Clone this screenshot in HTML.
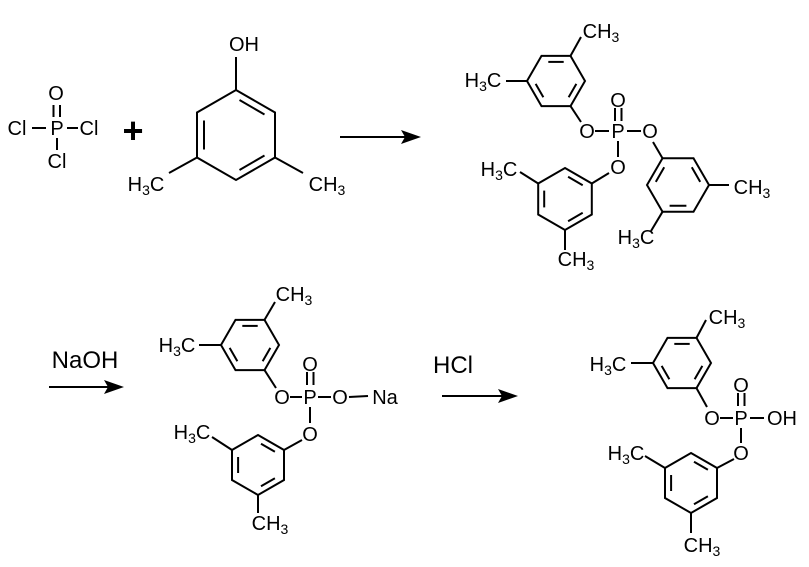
<!DOCTYPE html>
<html><head><meta charset="utf-8"><style>
html,body{margin:0;padding:0;background:#fff;}
svg{display:block;}
text{font-family:"Liberation Sans",Arial,sans-serif;font-size:20px;fill:#000;}
.s{font-size:14px;}
.r{font-size:24px;}
</style></head><body>
<svg width="809" height="567" viewBox="0 0 809 567" xmlns="http://www.w3.org/2000/svg">
<g stroke="#000" stroke-width="2" fill="none" stroke-linecap="butt">
<line x1="32" y1="128" x2="46" y2="128"/><line x1="67" y1="128" x2="78" y2="128"/>
<line x1="57" y1="138" x2="57" y2="150"/>
<line x1="53.5" y1="105" x2="53.5" y2="117"/><line x1="60" y1="105" x2="60" y2="117"/>
<polygon points="236,90 275,112.5 275,157.5 236,180 197,157.5 197,112.5"/>
<line x1="239.5" y1="100" x2="264.5" y2="114.5"/><line x1="264.5" y1="155.5" x2="239.5" y2="170"/><line x1="204" y1="149.5" x2="204" y2="120.5"/>
<line x1="236" y1="90" x2="236" y2="57"/>
<line x1="197" y1="157.5" x2="169" y2="173"/><line x1="275" y1="157.5" x2="303" y2="173"/>
<line x1="340" y1="137" x2="406" y2="137"/>
<polygon points="585,81 570.5,106.1 541.5,106.1 527,81 541.5,55.9 570.5,55.9"/>
<line x1="548.3" y1="61.9" x2="563.7" y2="61.9"/><line x1="576.35" y1="83.87" x2="568.65" y2="97.23"/><line x1="543.35" y1="97.23" x2="535.65" y2="83.87"/>
<line x1="570.5" y1="55.9" x2="581" y2="37"/><line x1="527" y1="81" x2="506" y2="81"/>
<line x1="570.5" y1="106.1" x2="581" y2="122"/>
<line x1="595" y1="131" x2="609" y2="131"/><line x1="627" y1="131" x2="641" y2="131"/>
<line x1="615" y1="108" x2="615" y2="121"/><line x1="621.5" y1="108" x2="621.5" y2="121"/>
<line x1="618" y1="141" x2="618" y2="157"/>
<polygon points="565,168 591.8,183.5 591.8,214.5 565,230 538.2,214.5 538.2,183.5"/>
<line x1="568.1" y1="176.8" x2="582.7" y2="185.2"/><line x1="582.7" y1="212.8" x2="568.1" y2="221.2"/><line x1="544.2" y1="207.4" x2="544.2" y2="190.6"/>
<line x1="591.8" y1="183.5" x2="609" y2="173"/><line x1="538.2" y1="183.5" x2="520" y2="172"/><line x1="565" y1="230" x2="565" y2="250"/>
<polygon points="709,185 693.5,211.8 662.5,211.8 647,185 662.5,158.2 693.5,158.2"/>
<line x1="655.8" y1="181.9" x2="664.2" y2="167.3"/><line x1="686.4" y1="205.8" x2="669.6" y2="205.8"/><line x1="691.8" y1="167.3" x2="700.2" y2="181.9"/>
<line x1="662.5" y1="158.2" x2="653" y2="142"/><line x1="709" y1="185" x2="729" y2="185"/><line x1="662.5" y1="211.8" x2="651" y2="231"/>
<line x1="49" y1="387" x2="110" y2="387"/>
<polygon points="279,345 264.5,370.1 235.5,370.1 221,345 235.5,319.9 264.5,319.9"/>
<line x1="242.3" y1="325.9" x2="257.7" y2="325.9"/><line x1="270.35" y1="347.87" x2="262.65" y2="361.23"/><line x1="237.35" y1="361.23" x2="229.65" y2="347.87"/>
<line x1="264.5" y1="319.9" x2="275" y2="302"/><line x1="221" y1="345" x2="199" y2="345"/><line x1="264.5" y1="370.1" x2="276" y2="388"/>
<line x1="290" y1="397" x2="302" y2="397"/><line x1="318" y1="397" x2="331" y2="397"/><line x1="349" y1="397" x2="368" y2="396"/>
<line x1="307" y1="372" x2="307" y2="385"/><line x1="313.5" y1="372" x2="313.5" y2="385"/>
<line x1="310" y1="407" x2="310" y2="423"/>
<polygon points="258,435 284,450 284,480 258,495 232,480 232,450"/>
<line x1="261" y1="443.7" x2="274.9" y2="451.8"/><line x1="274.9" y1="478.2" x2="261" y2="486.3"/><line x1="238.1" y1="473" x2="238.1" y2="457"/>
<line x1="284" y1="450" x2="302" y2="440"/><line x1="232" y1="450" x2="212" y2="437"/><line x1="258" y1="495" x2="258" y2="513"/>
<line x1="442" y1="396" x2="504" y2="396"/>
<polygon points="711,363 696.5,388.1 667.5,388.1 653,363 667.5,337.9 696.5,337.9"/>
<line x1="674.3" y1="343.9" x2="689.7" y2="343.9"/><line x1="702.35" y1="365.87" x2="694.65" y2="379.23"/><line x1="669.35" y1="379.23" x2="661.65" y2="365.87"/>
<line x1="696.5" y1="337.9" x2="706" y2="320"/><line x1="653" y1="363" x2="631" y2="363"/><line x1="696.5" y1="388.1" x2="707" y2="407"/>
<line x1="720" y1="418" x2="733" y2="418"/><line x1="750" y1="418" x2="764" y2="418"/>
<line x1="738" y1="393" x2="738" y2="406"/><line x1="744.5" y1="393" x2="744.5" y2="406"/>
<line x1="741" y1="428" x2="741" y2="443"/>
<polygon points="691,453 717,468 717,498 691,513 665,498 665,468"/>
<line x1="694" y1="461.7" x2="707.9" y2="469.8"/><line x1="707.9" y1="496.2" x2="694" y2="504.3"/><line x1="671.1" y1="491" x2="671.1" y2="475"/>
<line x1="717" y1="468" x2="734" y2="459"/><line x1="665" y1="468" x2="645" y2="456"/><line x1="691" y1="513" x2="691" y2="533"/>
</g>
<g fill="#000">
<polygon points="421,137 401,130 405,137 401,144"/>
<polygon points="124,387 104,380 108,387 104,394"/>
<polygon points="518,396 498,389 502,396 498,403"/>
</g>
<g text-anchor="middle">
<text x="56" y="100">O</text><text x="17" y="135">Cl</text><text x="57" y="135">P</text><text x="89" y="135">Cl</text><text x="57" y="168">Cl</text>
<text x="133" y="143" style="font-size:36px;font-weight:bold">+</text>
<text x="244" y="51">OH</text>
<text x="146" y="191">H<tspan class="s" dy="4">3</tspan><tspan dy="-4">C</tspan></text>
<text x="327" y="191">CH<tspan class="s" dy="4">3</tspan></text>
<text x="601" y="38">CH<tspan class="s" dy="4">3</tspan></text>
<text x="483" y="87">H<tspan class="s" dy="4">3</tspan><tspan dy="-4">C</tspan></text>
<text x="587" y="138">O</text><text x="618" y="138">P</text><text x="650" y="138">O</text>
<text x="618" y="107">O</text><text x="618" y="174">O</text>
<text x="499" y="176">H<tspan class="s" dy="4">3</tspan><tspan dy="-4">C</tspan></text>
<text x="576" y="266">CH<tspan class="s" dy="4">3</tspan></text>
<text x="752" y="194">CH<tspan class="s" dy="4">3</tspan></text>
<text x="636" y="244">H<tspan class="s" dy="4">3</tspan><tspan dy="-4">C</tspan></text>
<text x="85" y="368" class="r">NaOH</text>
<text x="294" y="301">CH<tspan class="s" dy="4">3</tspan></text>
<text x="177" y="352">H<tspan class="s" dy="4">3</tspan><tspan dy="-4">C</tspan></text>
<text x="282" y="404">O</text><text x="310" y="404">P</text><text x="340" y="404">O</text><text x="385" y="404">Na</text>
<text x="310" y="371">O</text><text x="310" y="441">O</text>
<text x="192" y="439">H<tspan class="s" dy="4">3</tspan><tspan dy="-4">C</tspan></text>
<text x="270" y="530">CH<tspan class="s" dy="4">3</tspan></text>
<text x="453" y="373" class="r">HCl</text>
<text x="727" y="324">CH<tspan class="s" dy="4">3</tspan></text>
<text x="608" y="371">H<tspan class="s" dy="4">3</tspan><tspan dy="-4">C</tspan></text>
<text x="712" y="425">O</text><text x="741" y="425">P</text><text x="782" y="425">OH</text>
<text x="741" y="392">O</text><text x="741" y="460">O</text>
<text x="626" y="460">H<tspan class="s" dy="4">3</tspan><tspan dy="-4">C</tspan></text>
<text x="702" y="552">CH<tspan class="s" dy="4">3</tspan></text>
</g>
</svg>
</body></html>
